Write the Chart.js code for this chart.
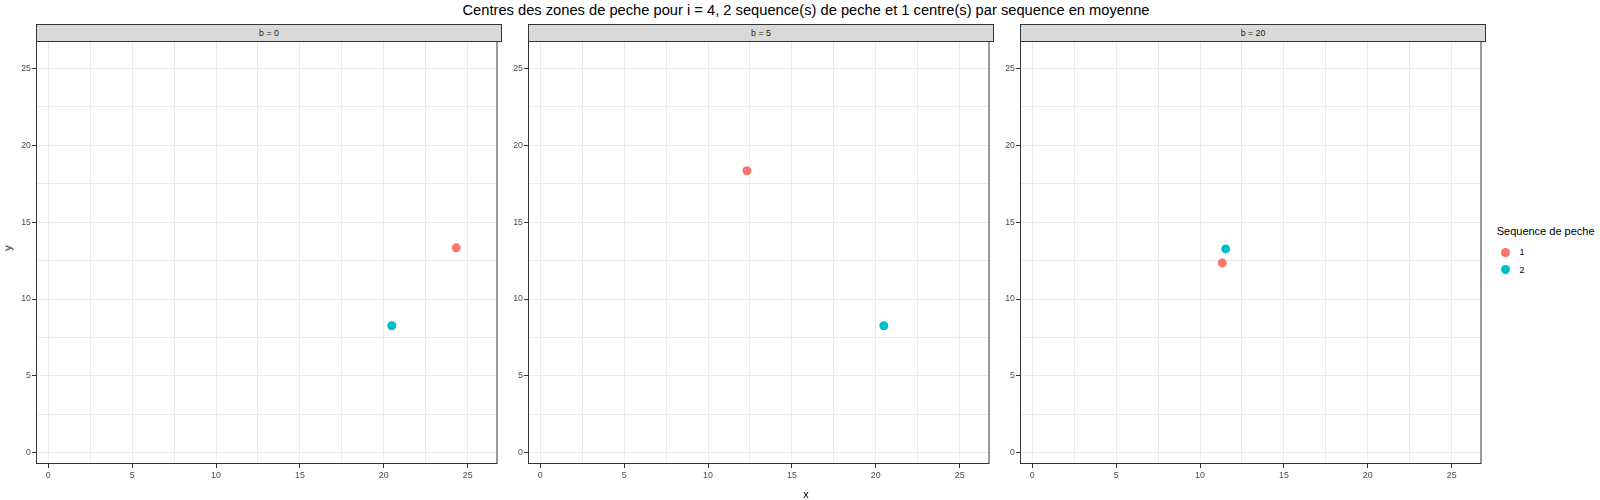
<!DOCTYPE html>
<html lang="fr">
<head>
<meta charset="utf-8">
<title>Centres des zones de peche</title>
<script src="https://cdn.jsdelivr.net/npm/chart.js@4.4.0/dist/chart.umd.min.js"></script>
<style>
  html, body { margin: 0; padding: 0; background: #fff; }
  body { width: 1600px; height: 500px; position: relative; overflow: hidden; font-family: "Liberation Sans", Arial, sans-serif; }
  .txt { position: absolute; line-height: 1; white-space: nowrap; }
  .panel { position: absolute; top: 24px; }
  .strip { position: absolute; top: 24px; width: 466px; height: 18px; box-sizing: border-box; border: 1px solid #333; background: #d9d9d9; color: #1a1a1a; font-size: 8.8px; display: flex; align-items: center; justify-content: center; }
  .key { position: absolute; width: 9px; height: 9px; border-radius: 50%; }
</style>
</head>
<body>
<div class="txt" style="left:806px; top:3.2px; font-size:14.7px; color:#000; transform:translateX(-50%);">Centres des zones de peche pour i = 4, 2 sequence(s) de peche et 1 centre(s) par sequence en moyenne</div>

<div class="strip" style="left:36px;">b = 0</div>
<div class="strip" style="left:528px;">b = 5</div>
<div class="strip" style="left:1020px;">b = 20</div>

<div class="panel" style="left:-4px;"><canvas id="c0" width="506" height="476"></canvas></div>
<div class="panel" style="left:488px;"><canvas id="c1" width="506" height="476"></canvas></div>
<div class="panel" style="left:980px;"><canvas id="c2" width="506" height="476"></canvas></div>

<div class="txt" style="left:806px; top:488.5px; font-size:11px; color:#000; transform:translateX(-50%);">x</div>
<div class="txt" style="left:8px; top:248px; font-size:11px; color:#000; transform:translate(-50%,-50%) rotate(-90deg);">y</div>

<!-- Légende -->
<div class="txt" style="left:1496.7px; top:226.2px; font-size:11px; color:#000;">Sequence de peche</div>
<div class="key" id="k0" style="left:1500.8px; top:247.5px;"></div>
<div class="txt" id="l0" style="left:1519.5px; top:248.3px; font-size:8.8px; color:#000;"></div>
<div class="key" id="k1" style="left:1500.8px; top:264.8px;"></div>
<div class="txt" id="l1" style="left:1519.5px; top:265.6px; font-size:8.8px; color:#000;"></div>

<script>
// Données
const panels = ['b = 0', 'b = 5', 'b = 20'];
const seqLabels = ['1', '2'];
const seqColors = ['#F8766D', '#00BFC4'];
const seq1X = [24.32, 12.32, 11.33];
const seq1Y = [13.33, 18.34, 12.35];
const seq2X = [20.48, 20.48, 11.53];
const seq2Y = [8.26, 8.26, 13.26];
const gridVals = [0, 2.5, 5, 7.5, 10, 12.5, 15, 17.5, 20, 22.5, 25];
const axisMin = -0.73, axisMax = 26.78;

// légende
seqLabels.forEach((s, i) => {
  document.getElementById('k' + i).style.background = seqColors[i];
  document.getElementById('l' + i).textContent = s;
});

// cadre du panneau (theme_bw)
const cadre = {
  id: 'cadre',
  afterDraw(chart) {
    const a = chart.chartArea, c = chart.ctx;
    c.save();
    c.strokeStyle = '#333333';
    c.lineWidth = 1;
    c.strokeRect(a.left + 0.5, a.top + 0.5, a.right - a.left - 1, a.bottom - a.top - 1);
    c.restore();
  }
};

const isMajor = v => v % 5 === 0;
const tickFont = { family: '"Liberation Sans", Arial, sans-serif', size: 8.8 };

function axis(isX) {
  return {
    type: 'linear',
    min: axisMin,
    max: axisMax,
    afterBuildTicks: s => { s.ticks = gridVals.map(v => ({ value: v })); },
    afterFit: s => { if (isX) s.height = 36; else s.width = 40; },
    border: { display: false },
    grid: {
      color: '#ebebeb',
      lineWidth: 1,
      drawTicks: true,
      tickLength: 4,
      tickWidth: 1,
      tickColor: c => (c.tick && isMajor(c.tick.value)) ? '#333333' : 'rgba(0,0,0,0)'
    },
    ticks: {
      autoSkip: false,
      maxRotation: 0,
      padding: isX ? 2 : 1,
      color: '#4d4d4d',
      font: tickFont,
      callback: v => isMajor(v) ? String(v) : ''
    }
  };
}

panels.forEach((p, i) => {
  new Chart(document.getElementById('c' + i), {
    type: 'scatter',
    data: {
      datasets: [
        { label: seqLabels[0], data: [{ x: seq1X[i], y: seq1Y[i] }], backgroundColor: seqColors[0], pointRadius: 4.5, borderWidth: 0 },
        { label: seqLabels[1], data: [{ x: seq2X[i], y: seq2Y[i] }], backgroundColor: seqColors[1], pointRadius: 4.5, borderWidth: 0 }
      ]
    },
    options: {
      responsive: false,
      devicePixelRatio: 1,
      animation: false,
      layout: { padding: { top: 17, left: 0, right: 0, bottom: 0 } },
      plugins: { legend: { display: false }, tooltip: { enabled: false } },
      scales: { x: axis(true), y: axis(false) }
    },
    plugins: [cadre]
  });
});
</script>
</body>
</html>
